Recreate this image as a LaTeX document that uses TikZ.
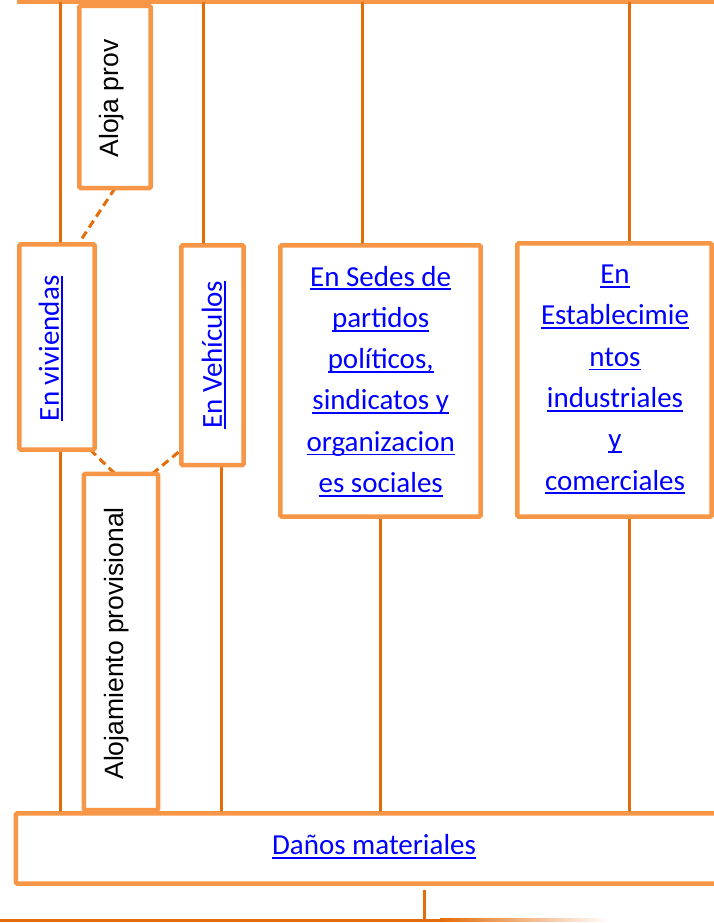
\documentclass[tikz,border=0pt]{standalone}
\usepackage{fontspec}
\newfontfamily\calibfont{Carlito}
\newfontfamily\arialfont{Liberation Sans}
\usetikzlibrary{calc}
\definecolor{boxorange}{HTML}{F79646}
\definecolor{lineorange}{HTML}{E46C0A}
\definecolor{linkblue}{HTML}{0000FF}
\newcommand\ulink[1]{\setbox0\hbox{#1}\rlap{\rule[-4.2pt]{\wd0}{1.8pt}}\box0}
\begin{document}
\begin{tikzpicture}[x=1pt,y=-1pt,
  boxst/.style={draw=boxorange, line width=4.5pt, fill=white, rounded corners=1.5pt, inner sep=0pt},
  conn/.style={draw=lineorange, line width=3pt},
  dconn/.style={draw=lineorange, line width=3pt, dash pattern=on 8pt off 5pt},
  topbar/.style={draw=boxorange, line width=4.5pt},
  blacktxt/.style={text=black, font=\arialfont\fontsize{26.5}{31}\selectfont, inner sep=0pt},
  bluetxt/.style={text=linkblue, font=\calibfont\fontsize{29}{35}\selectfont, inner sep=0pt}]
\useasboundingbox (0,0) rectangle (714,923);
\clip (0,0) rectangle (714,923);

% box placeholders (named)
\path
  node[minimum width=71, minimum height=182] (aloja) at (115,97) {}
  node[minimum width=75, minimum height=205] (viv) at (57,347) {}
  node[minimum width=62, minimum height=219.5] (veh) at (212.5,355.25) {}
  node[minimum width=74, minimum height=336] (alojprov) at (121,642) {}
  node[minimum width=200, minimum height=271] (sedes) at (380.5,381) {}
  node[minimum width=194, minimum height=273] (estab) at (614.5,380) {}
  node[minimum width=714, minimum height=70] (danos) at (373,848.5) {};

% top bar and connectors
\coordinate (tbL) at (17,2);
\coordinate (tbR) at (720,2);
\draw[topbar] (tbL) -- (tbR);
\coordinate (t1) at (60,2);
\coordinate (t2) at (203,2);
\coordinate (t3) at (362,2);
\coordinate (t4) at (629,2);
\coordinate (b2) at (221,0);
\draw[conn] (t1) -- (t1 |- viv.north);
\draw[conn] (t2) -- (t2 |- veh.north);
\draw[conn] (t3) -- (t3 |- sedes.north);
\draw[conn] (t4) -- (t4 |- estab.north);
\draw[conn] (t1 |- viv.south) -- (t1 |- danos.north);
\draw[conn] (b2 |- veh.south) -- (b2 |- danos.north);
\draw[conn] (sedes.south) -- (sedes.south |- danos.north);
\draw[conn] (t4 |- estab.south) -- (t4 |- danos.north);

% dashed links
\draw[dconn] (aloja.south) -- ($(viv.north west)!0.78!(viv.north east)$);
\draw[dconn] ($(viv.south west)!0.94!(viv.south east)$) -- ($(alojprov.north west)!0.42!(alojprov.north east)$);
\draw[dconn] ($(alojprov.north west)!0.92!(alojprov.north east)$) -- ($(veh.south west)!0.07!(veh.north west)$);

% bottom stub and fading line
\coordinate (bl) at (424,920);
\draw[conn] ($(danos.south -| bl)+(0,6)$) -- (bl);
\coordinate (fadeA) at (0,920);
\coordinate (fadeB) at (441,920);
\draw[conn] (fadeA) -- (fadeB);
\shade[left color=lineorange, right color=white] (440,918.5) rectangle (610,921.5);

% boxes
\draw[boxst] (danos.north west) rectangle (danos.south east);
\draw[boxst] (aloja.north west) rectangle (aloja.south east);
\draw[boxst] (viv.north west) rectangle (viv.south east);
\draw[boxst] (veh.north west) rectangle (veh.south east);
\draw[boxst] (alojprov.north west) rectangle (alojprov.south east);
\draw[boxst] (sedes.north west) rectangle (sedes.south east);
\draw[boxst] (estab.north west) rectangle (estab.south east);

% texts
\node[blacktxt, rotate=90] (alojatxt) at (111.5,98.4) {Aloja prov};
\node[blacktxt, rotate=90] (alojprovtxt) at (116.5,643.3) {Alojamiento provisional};
\node[bluetxt, rotate=90] (vivtxt) at (51,348.3) {\ulink{En viviendas}};
\node[bluetxt, rotate=90] (vehtxt) at (214,354.7) {\ulink{En Vehículos}};
\node[bluetxt] (danostxt) at (374,847) {\ulink{Daños materiales}};
\foreach \t [count=\i] in {En Sedes de, partidos, {políticos,}, sindicatos y, organizacion, es sociales}
  \node[bluetxt, anchor=base] (sedes-\i) at (380.7,{286+41.3*(\i-1)}) {\ulink{\t}};
\foreach \t [count=\i] in {En, Establecimie, ntos, industriales, y, comerciales}
  \node[bluetxt, anchor=base] (estab-\i) at (615,{283.5+41.3*(\i-1)}) {\ulink{\t}};
\end{tikzpicture}
\end{document}
